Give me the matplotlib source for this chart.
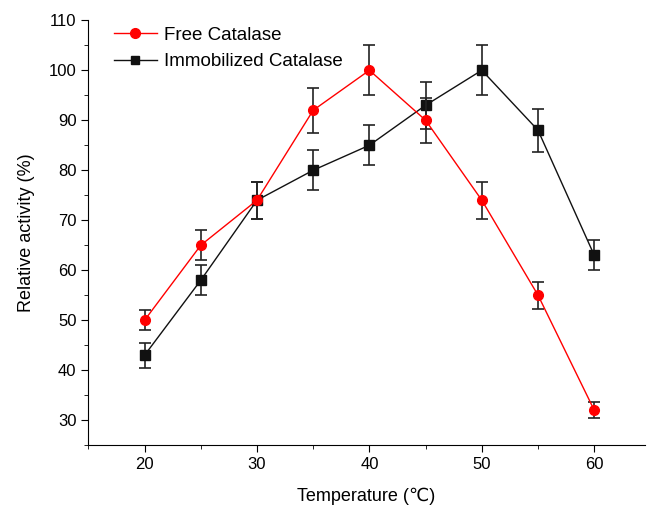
import matplotlib.pyplot as plt
from matplotlib.lines import Line2D
from matplotlib.ticker import MultipleLocator

# datos
temperatura = [20, 25, 30, 35, 40, 45, 50, 55, 60]
libre = [50, 65, 74, 92, 100, 90, 74, 55, 32]
libre_err = [2, 3, 3.7, 4.5, 5, 4.5, 3.7, 2.7, 1.6]
inmovilizada = [43, 58, 74, 80, 85, 93, 100, 88, 63]
inmovilizada_err = [2.5, 3, 3.7, 4, 4, 4.7, 5, 4.3, 3]

plt.rcParams['font.family'] = ['Liberation Sans', 'DejaVu Sans']

fig = plt.figure(figsize=(6.5, 5.07), dpi=100)
ax = fig.add_axes([0.136, 0.122, 0.856, 0.838])

ax.errorbar(temperatura, libre, yerr=libre_err, color='red', marker='o', markersize=7,
            lw=1, ecolor='#222222', elinewidth=1.2, capsize=4, capthick=1.2, zorder=3)
ax.errorbar(temperatura, inmovilizada, yerr=inmovilizada_err, color='#111111', marker='s',
            markersize=7, lw=1, ecolor='#222222', elinewidth=1.2, capsize=4, capthick=1.2,
            zorder=2)

ax.set_xlim(15, 64.5)
ax.set_ylim(25, 110)
ax.xaxis.set_major_locator(MultipleLocator(10))
ax.xaxis.set_minor_locator(MultipleLocator(5))
ax.yaxis.set_minor_locator(MultipleLocator(5))
ax.set_yticks(range(30, 111, 10))
ax.tick_params(which='major', direction='out', length=5, labelsize=12)
ax.tick_params(which='minor', direction='out', length=3)

ax.spines['top'].set_visible(False)
ax.spines['right'].set_visible(False)

ax.set_xlabel('Temperature (℃)', fontsize=13, labelpad=11)
ax.set_ylabel('Relative activity (%)', fontsize=13, labelpad=10)

# leyenda sin barras de error
manijas = [Line2D([], [], color='red', marker='o', markersize=7, lw=1),
           Line2D([], [], color='#111111', marker='s', markersize=6, lw=1)]
ax.legend(manijas, ['Free Catalase', 'Immobilized Catalase'], loc='upper left',
          bbox_to_anchor=(0.015, 1.025), frameon=False, fontsize=13.5,
          handlelength=2.3, handletextpad=0.4, labelspacing=0.5)

fig.savefig('out.png', dpi=100)
